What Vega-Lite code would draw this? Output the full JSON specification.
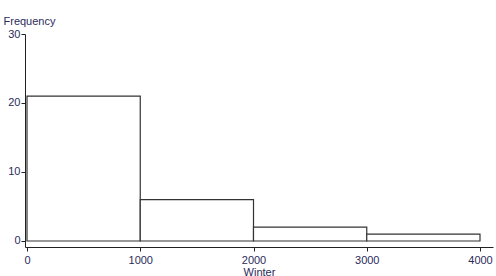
{
  "$schema": "https://vega.github.io/schema/vega-lite/v6.json",
  "width": 468,
  "height": 213,
  "autosize": "none",
  "padding": {"left": 25, "top": 34, "right": 3, "bottom": 29},
  "background": "white",
  "config": {
    "view": {"stroke": null},
    "axis": {
      "grid": false,
      "labelFont": "Liberation Sans",
      "labelFontSize": 11,
      "labelColor": "#2b2b5a",
      "titleFont": "Liberation Sans",
      "titleFontSize": 11,
      "titleFontWeight": "normal",
      "titleColor": "#2b2b5a",
      "domainColor": "#222222",
      "tickColor": "#222222",
      "tickSize": 4
    }
  },
  "data": {
    "values": [
      {"bin_start": 0, "bin_end": 1000, "count": 21},
      {"bin_start": 1000, "bin_end": 2000, "count": 6},
      {"bin_start": 2000, "bin_end": 3000, "count": 2},
      {"bin_start": 3000, "bin_end": 4000, "count": 1}
    ]
  },
  "mark": {"type": "rect", "fill": "white", "stroke": "#333333", "strokeWidth": 1.2},
  "encoding": {
    "x": {
      "field": "bin_start",
      "type": "quantitative",
      "scale": {"domain": [-17.7, 4114.8], "nice": false, "zero": false},
      "axis": {
        "values": [0, 1000, 2000, 3000, 4000],
        "format": "d",
        "title": "Winter",
        "labelPadding": 3,
        "titlePadding": 1,
        "labelFlush": false
      }
    },
    "x2": {"field": "bin_end"},
    "y": {
      "field": "count",
      "type": "quantitative",
      "scale": {"domain": [-0.87, 30], "nice": false, "zero": false},
      "axis": {
        "values": [0, 10, 20, 30],
        "format": "d",
        "title": "Frequency",
        "titleAngle": 0,
        "titleAlign": "left",
        "titleBaseline": "alphabetic",
        "titleX": -22,
        "titleY": -10,
        "labelPadding": 1,
        "labelFlush": false
      }
    },
    "y2": {"datum": 0}
  }
}
